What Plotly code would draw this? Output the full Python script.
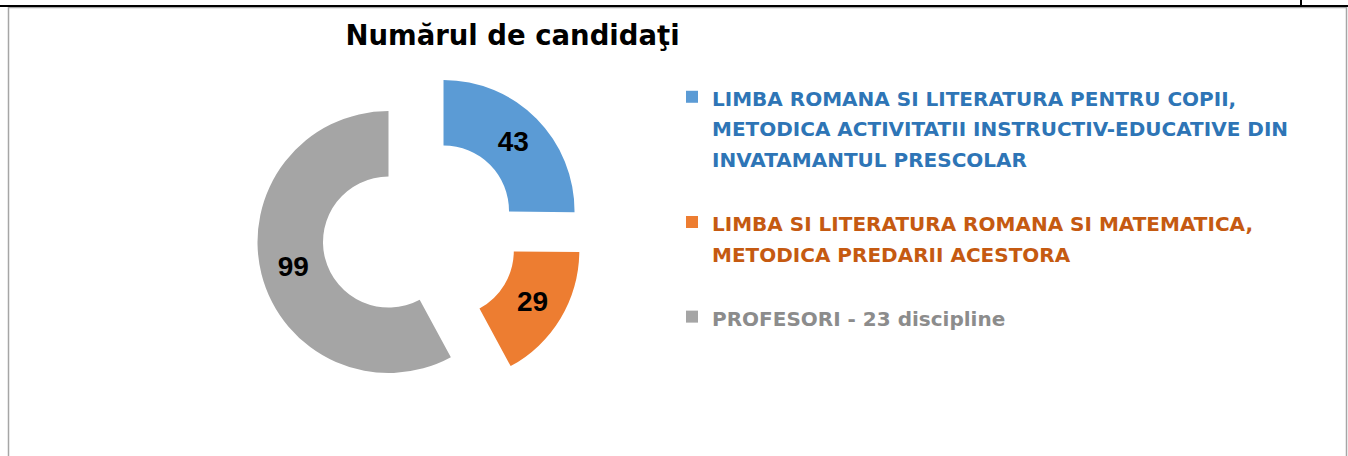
import plotly.graph_objects as go

# ---- data ----
category_lines = [
    ["LIMBA ROMANA SI LITERATURA PENTRU COPII,",
     "METODICA ACTIVITATII INSTRUCTIV-EDUCATIVE DIN",
     "INVATAMANTUL PRESCOLAR"],
    ["LIMBA SI LITERATURA ROMANA SI MATEMATICA,",
     "METODICA PREDARII ACESTORA"],
    ["PROFESORI - 23 discipline"],
]
values = [43, 29, 99]
slice_colors = ["#5B9BD5", "#ED7D31", "#A5A5A5"]
legend_text_colors = ["#2E75B6", "#C55A11", "#8C8C8C"]
title_text = "Numărul de candidaţi"

W, H = 1348, 456
TEXT_FONT = "DejaVu Sans, Open Sans, sans-serif"

# legend labels (multi-line, coloured), with a spacer line after each entry
labels = []
for i, (lines, tc) in enumerate(zip(category_lines, legend_text_colors)):
    body = "<br>".join(
        f'<span style="font-size:20px;color:{tc}"><b>{ln}</b></span>' for ln in lines
    )
    if i < len(category_lines) - 1:
        body += "<br> "
    labels.append(body)

# pie domain in pixels -> paper
dx0, dx1 = 256.5, 584.0
dy0, dy1 = 70.0, 398.0

fig = go.Figure(
    go.Pie(
        labels=labels,
        values=values,
        marker=dict(colors=slice_colors, line=dict(width=0)),
        hole=0.5,
        pull=[0.25, 0.25, 0.25],
        sort=False,
        direction="clockwise",
        rotation=0,
        textinfo="value",
        textposition="inside",
        insidetextorientation="horizontal",
        textfont=dict(family="Liberation Sans, Arial", size=28, color="#000000", weight="bold"),
        domain=dict(x=[dx0 / W, dx1 / W], y=[1 - dy1 / H, 1 - dy0 / H]),
        hoverinfo="value+percent",
    )
)

fig.update_layout(
    width=W,
    height=H,
    margin=dict(l=0, r=0, t=0, b=0),
    paper_bgcolor="#FFFFFF",
    plot_bgcolor="#FFFFFF",
    title=dict(
        text=f"<b>{title_text}</b>",
        x=512.5 / W,
        xanchor="center",
        xref="paper",
        y=1 - 35.5 / H,
        yanchor="middle",
        yref="paper",
        font=dict(family=TEXT_FONT, size=27.5, color="#000000"),
    ),
    showlegend=True,
    legend=dict(
        x=672 / W,
        y=1 - 75 / H,
        xanchor="left",
        yanchor="top",
        valign="top",
        font=dict(family=TEXT_FONT, size=23.5, color="#2E75B6"),
        bgcolor="rgba(0,0,0,0)",
        borderwidth=0,
        itemwidth=30,
    ),
    shapes=[
        # chart frame (light gray)
        dict(type="rect", xref="paper", yref="paper",
             x0=8.5 / W, x1=1346.5 / W, y0=-0.1, y1=1 - 7.5 / H,
             line=dict(color="#A6A6A6", width=1.5), fillcolor="rgba(0,0,0,0)", layer="above"),
        # page table lines (black)
        dict(type="line", xref="paper", yref="paper",
             x0=0, x1=1, y0=1 - 6 / H, y1=1 - 6 / H,
             line=dict(color="#000000", width=2), layer="above"),
        dict(type="line", xref="paper", yref="paper",
             x0=1301 / W, x1=1301 / W, y0=1, y1=1 - 6 / H,
             line=dict(color="#000000", width=2), layer="above"),
    ],
)

fig.write_html(
    "out.html",
    config={"displayModeBar": False},
    post_script="document.body.style.margin='0px';document.body.style.overflow='hidden';",
)
